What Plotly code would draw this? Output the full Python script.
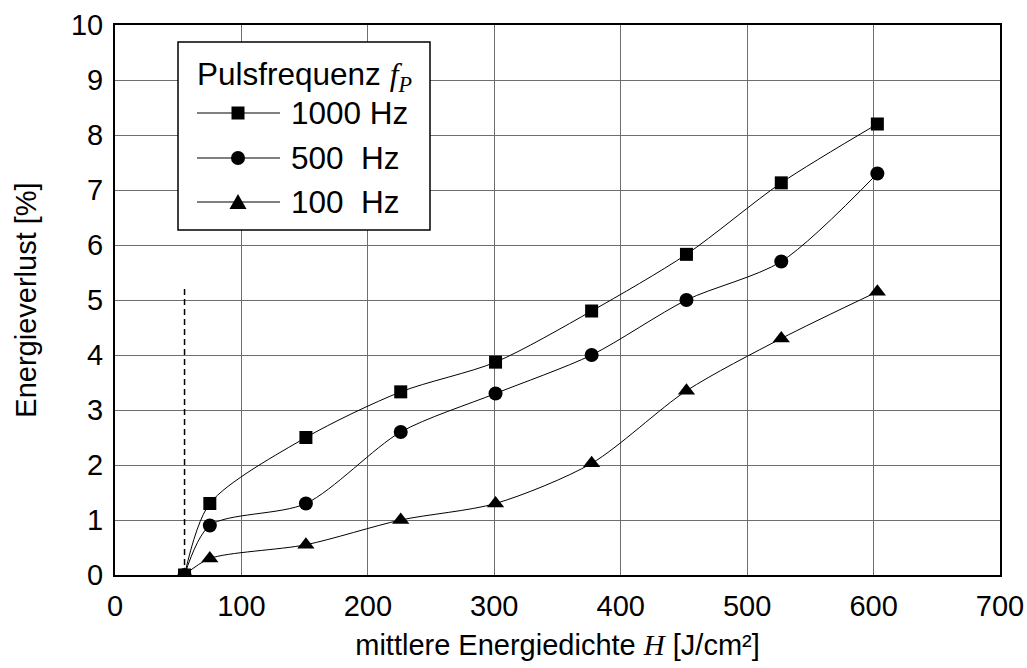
import plotly.graph_objects as go

# Mean energy density H [J/cm²]
energiedichte = [55, 75, 151, 226, 301, 377, 452, 527, 603]

# Energy loss [%] per pulse frequency
verlust_1000 = [0, 1.3, 2.5, 3.33, 3.87, 4.8, 5.83, 7.13, 8.2]
verlust_500 = [0, 0.9, 1.3, 2.6, 3.3, 4.0, 5.0, 5.7, 7.3]
verlust_100 = [0, 0.3, 0.55, 1.0, 1.3, 2.03, 3.35, 4.3, 5.15]

serien = [
    ("1000 Hz", verlust_1000, "square", 13),
    ("500  Hz", verlust_500, "circle", 14),
    ("100  Hz", verlust_100, "triangle-up", 15),
]

# Threshold marker (dashed vertical line)
schwelle_h = 55
schwelle_top = 5.2

x_ticks = [0, 100, 200, 300, 400, 500, 600, 700]
y_ticks = list(range(0, 11))

W, H = 1027, 668
M_L, M_R, M_T, M_B = 115, 27, 25, 93
PW, PH = W - M_L - M_R, H - M_T - M_B


def px(x):
    return (x - M_L) / PW


def py(y):
    return (H - M_B - y) / PH


fig = go.Figure()
for name, werte, symbol, size in serien:
    fig.add_trace(go.Scatter(
        x=energiedichte, y=werte, name=name,
        mode="lines+markers",
        line=dict(color="black", width=1, shape="spline", smoothing=0.8),
        marker=dict(symbol=symbol, size=size, color="black"),
        showlegend=False,
    ))

fig.add_shape(type="line", x0=schwelle_h, x1=schwelle_h, y0=0, y1=schwelle_top,
              xref="x", yref="y", line=dict(color="black", width=1.5, dash="6px,4px"))

font_main = "Liberation Sans, Arial, sans-serif"
fs = 29
fs_leg = 31.5

# Legend box drawn by hand (long sample lines as in the original layout)
shapes = [dict(type="rect", xref="paper", yref="paper",
               x0=px(178), x1=px(430), y0=py(230), y1=py(42),
               line=dict(color="black", width=1.5), fillcolor="white", layer="above")]
annotations = [dict(xref="paper", yref="paper", x=px(195), y=py(76),
                    xanchor="left", yanchor="middle", showarrow=False,
                    text="Pulsfrequenz <i><span style='font-family:Liberation Serif'>f<sub>P</sub></span></i>",
                    font=dict(size=fs_leg))]
legend_rows = [113, 158, 202]
for (name, _, symbol, _), ry in zip(serien, legend_rows):
    shapes.append(dict(type="line", xref="paper", yref="paper",
                       x0=px(197), x1=px(280), y0=py(ry), y1=py(ry),
                       line=dict(color="black", width=1), layer="above"))
    cx = 238
    if symbol == "square":
        shapes.append(dict(type="rect", xref="paper", yref="paper",
                           x0=px(cx - 6.5), x1=px(cx + 6.5), y0=py(ry + 6.5), y1=py(ry - 6.5),
                           line=dict(width=0), fillcolor="black", layer="above"))
    elif symbol == "circle":
        shapes.append(dict(type="circle", xref="paper", yref="paper",
                           x0=px(cx - 7), x1=px(cx + 7), y0=py(ry + 7), y1=py(ry - 7),
                           line=dict(width=0), fillcolor="black", layer="above"))
    else:
        path = (f"M {px(cx - 8.5)} {py(ry + 7)} L {px(cx + 8.5)} {py(ry + 7)} "
                f"L {px(cx)} {py(ry - 8)} Z")
        shapes.append(dict(type="path", xref="paper", yref="paper", path=path,
                           line=dict(width=0), fillcolor="black", layer="above"))
    annotations.append(dict(xref="paper", yref="paper", x=px(289), y=py(ry),
                            xanchor="left", yanchor="middle", showarrow=False,
                            text=name.replace("  ", "&nbsp;&nbsp;"), font=dict(size=fs_leg)))

fig.update_layout(
    width=W, height=H,
    margin=dict(l=M_L, r=M_R, t=M_T, b=M_B),
    plot_bgcolor="white", paper_bgcolor="white",
    font=dict(family=font_main, size=fs, color="black"),
    showlegend=False,
    shapes=list(fig.layout.shapes) + shapes,
    annotations=annotations,
    xaxis=dict(
        range=[0, 700], tickvals=x_ticks, ticktext=[str(v) for v in x_ticks],
        tickfont=dict(size=fs), automargin=False,
        showgrid=True, gridcolor="#6e6e6e", gridwidth=1,
        showline=True, linecolor="black", linewidth=2, mirror=True,
        ticks="outside", ticklen=4, tickcolor="white", zeroline=False,
        title=dict(text="mittlere Energiedichte <i><span style='font-family:Liberation Serif'>H</span></i> [J/cm²]",
                   standoff=14, font=dict(size=fs)),
    ),
    yaxis=dict(
        range=[0, 10], tickvals=y_ticks, ticktext=[str(v) for v in y_ticks],
        tickfont=dict(size=fs), automargin=False,
        showgrid=True, gridcolor="#6e6e6e", gridwidth=1,
        showline=True, linecolor="black", linewidth=2, mirror=True,
        ticks="outside", ticklen=4, tickcolor="white", zeroline=False,
        title=dict(text="Energieverlust [%]", standoff=26, font=dict(size=fs)),
    ),
)

fig.write_html("out.html")
